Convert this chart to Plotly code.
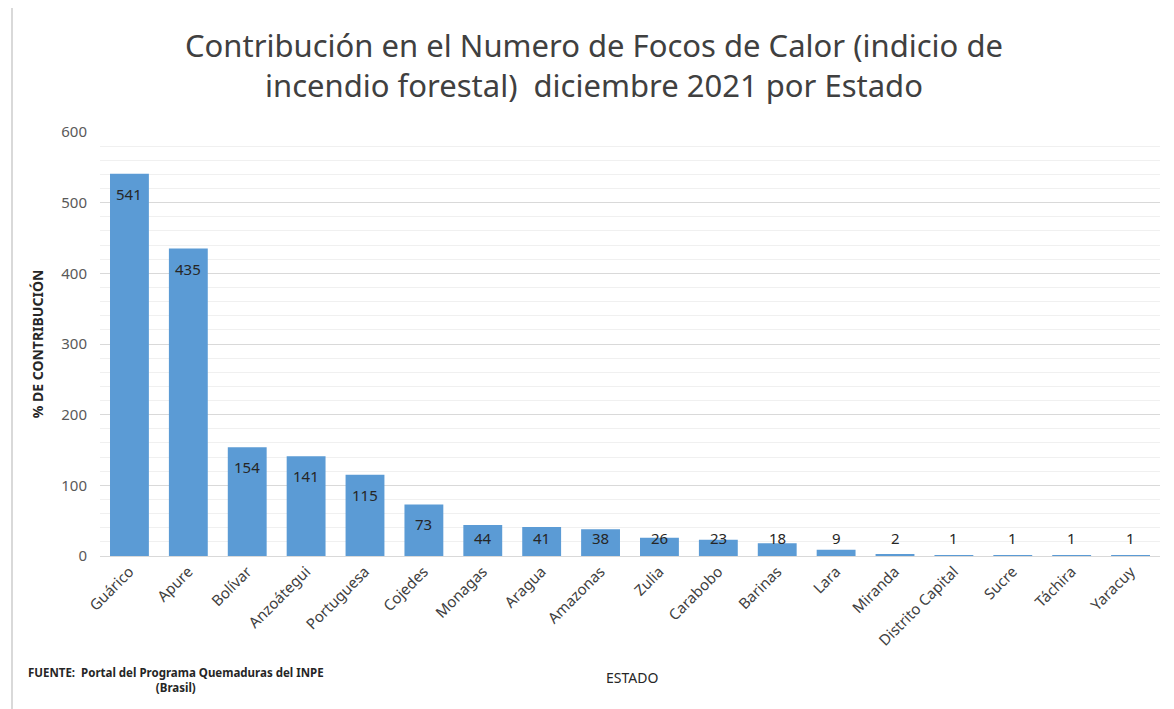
import plotly.graph_objects as go

# datos (focos de calor, diciembre 2021)
estados = ["Guárico", "Apure", "Bolívar", "Anzoátegui", "Portuguesa", "Cojedes",
           "Monagas", "Aragua", "Amazonas", "Zulia", "Carabobo", "Barinas", "Lara",
           "Miranda", "Distrito Capital", "Sucre", "Táchira", "Yaracuy"]
focos = [541, 435, 154, 141, 115, 73, 44, 41, 38, 26, 23, 18, 9, 2, 1, 1, 1, 1]
y_ticks = [0, 100, 200, 300, 400, 500, 600]

titulo = "Contribución en el Numero de Focos de Calor (indicio de<br>incendio forestal)  diciembre 2021 por Estado"
fuente = "FUENTE:  Portal del Programa Quemaduras del INPE<br>(Brasil)"

FONT = "Noto Sans"
GRIS = "#595959"

# area del grafico (px dentro de la figura)
L, R, T, B = 92, 22, 124, 161
W, H = 1174 - L - R, 709 - T - B

fig = go.Figure()
fig.add_trace(go.Bar(
    x=estados, y=focos,
    marker=dict(color="#5B9BD5", line=dict(width=0)),
    width=0.66,
    hoverinfo="x+y",
))

# etiquetas tipo "extremo interno" de Excel
for e, v in zip(estados, focos):
    fig.add_annotation(x=e, y=max(v, 54), yshift=-20, text=str(v),
                       showarrow=False, font=dict(family=FONT, size=15, color="#262626"))

fig.update_layout(
    width=1174, height=709,
    paper_bgcolor="white", plot_bgcolor="white",
    margin=dict(l=L, r=R, t=T, b=B, autoexpand=False),
    showlegend=False,
    bargap=0.34,
    font=dict(family=FONT, color=GRIS),
    title=dict(text=titulo, x=(594 - 8) / 1174, xanchor="center", y=0.931, yanchor="top",
               font=dict(family=FONT, size=31, color="#404040")),
    xaxis=dict(
        tickangle=-45, tickfont=dict(family=FONT, size=15, color="#404040"),
        showgrid=False, showline=True, linecolor="#d9d9d9", linewidth=1,
        ticks="", range=[-0.5, len(estados) - 0.5],
    ),
    yaxis=dict(
        range=[0, 600], tickvals=y_ticks,
        tickfont=dict(family=FONT, size=15, color=GRIS),
        showgrid=True, gridcolor="#d9d9d9", gridwidth=1,
        minor=dict(dtick=20, showgrid=True, gridcolor="#f0f0f0", gridwidth=1),
        zeroline=False, showline=False, ticks="", ticklabelstandoff=12,
        title=dict(text="<b>% DE CONTRIBUCIÓN</b>", standoff=14,
                   font=dict(family=FONT, size=14, color="#262626")),
    ),
)

fig.add_annotation(xref="paper", yref="paper", x=(624 - L) / W, y=-(669 - (T + H)) / H,
                   text="ESTADO", showarrow=False, xanchor="center", yanchor="middle",
                   font=dict(family=FONT, size=14, color="#262626"))
fig.add_annotation(xref="paper", yref="paper", x=(168 - L) / W, y=-(672 - (T + H)) / H,
                   text="<b>" + fuente + "</b>", showarrow=False, align="center",
                   xanchor="center", yanchor="middle",
                   font=dict(family=FONT, size=11.5, color="#262626"))

# borde izquierdo del area del grafico
fig.add_shape(type="line", xref="paper", yref="paper",
              x0=-(L - 4) / W, x1=-(L - 4) / W, y0=-B / H, y1=(709 - B) / H,
              line=dict(color="#d9d9d9", width=2))

fig.write_html("out.html")
